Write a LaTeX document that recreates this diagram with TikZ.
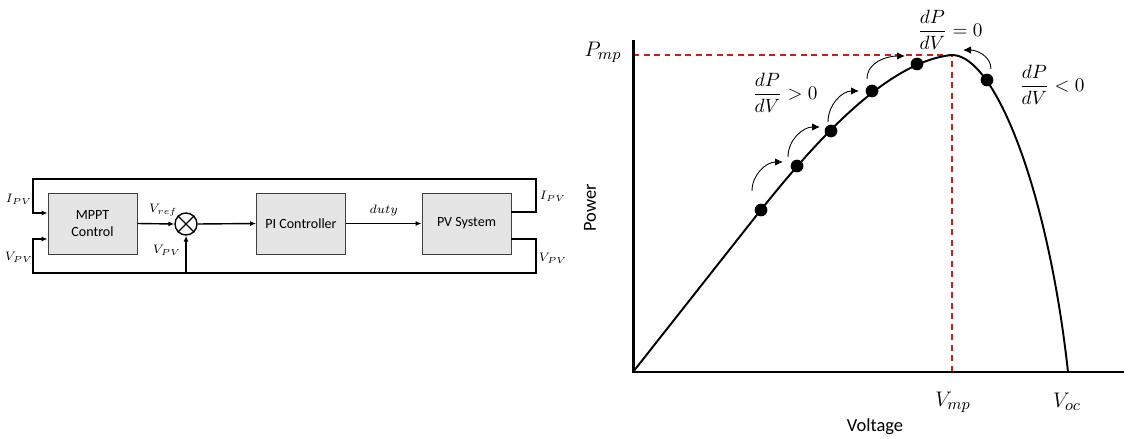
\documentclass[tikz,border=0pt]{standalone}
\usepackage{fontspec}
\setmainfont{Carlito}
\usepackage{amsmath}
\usetikzlibrary{arrows.meta, calc}
\definecolor{mpred}{RGB}{200,30,30}
\tikzset{
  block/.style  = {draw=black!75, fill=gray!20, align=center, line width=0.5pt,
                   minimum width=1.78cm, minimum height=1.22cm,
                   font=\fontsize{8}{9.5}\selectfont, inner sep=2pt},
  sumnode/.style = {draw, circle, minimum size=0.44cm, inner sep=0pt, line width=0.8pt},
  sig/.style    = {-{Latex[length=1.2mm,width=1mm]}, line width=0.8pt},
  lbl/.style    = {font=\fontsize{7}{8}\selectfont, inner sep=1pt},
  axis/.style   = {line width=1.7pt},
  pvcurve/.style = {line width=1.1pt},
  guide/.style  = {mpred, dash pattern=on 0.12cm off 0.09cm, line width=0.8pt},
  hop/.style    = {-{Latex[length=1.6mm,width=1.5mm]}, line width=0.5pt},
  big/.style    = {font=\fontsize{12.5}{14}\selectfont, inner sep=1pt},
  slope/.style  = {font=\fontsize{11}{13}\selectfont, inner sep=1pt},
  axlabel/.style = {font=\fontsize{10.5}{12}\selectfont, inner sep=1pt}
}
\begin{document}
\begin{tikzpicture}[x=0.02cm, y=-0.02cm]
\useasboundingbox (0,0) rectangle (1129,439);
% Control loop
\node[block] (mppt) at (92.5,223.5) {MPPT\\Control};
\node[sumnode] (sum) at (186,224) {};
\node[block] (pi) at (301,223.5) {PI Controller};
\node[block] (pv) at (466.5,223.5) {PV System};
\draw[line width=0.8pt] (sum.north west) -- (sum.south east) (sum.north east) -- (sum.south west);
\coordinate (nw) at (33,179);
\coordinate (ne) at (536,179);
\coordinate (sw) at (33,273);
\coordinate (se) at (536,273);
\draw[sig] (mppt.east) -- node[lbl, above=3pt, pos=0.7] (vref) {$V_{ref}$} (sum.west);
\draw[sig] (sum.east) -- (pi.west);
\draw[sig] (pi.east) -- node[lbl, above=3pt] (duty) {$duty$} (pv.west);
\draw[sig] ($(pv.east)+(0,-11.5)$) -| (ne) -- (nw) |- ($(mppt.west)+(0,-10.5)$);
\draw[sig] ($(pv.east)+(0,15.5)$) -| (se) -- (sw) |- ($(mppt.west)+(0,15.5)$);
\draw[sig] (sum |- sw) -- (sum.south);
\node[lbl] (ipvl) at (19,199) {$I_{PV}$};
\node[lbl] (vpvl) at (19,257) {$V_{PV}$};
\node[lbl] (ipvr) at (553,196) {$I_{PV}$};
\node[lbl] (vpvr) at (553,258) {$V_{PV}$};
\node[lbl] (vpvs) at (167,250) {$V_{PV}$};
% P-V curve
\coordinate (peak) at (952,55);
\draw[guide] (633,55) -- (peak) -- (952,372);
\draw[axis] (633,40) -- (633,372) -- (1124,372);
\draw[pvcurve] (633,372) -- (745,230) .. controls (800,160) and (880,62) .. (peak)
  .. controls (995,55) and (1048,190) .. (1068,372);
\foreach \x/\y [count=\i] in {761/210, 797/166, 831/131, 872/91, 917/64, 987/80}
  \fill (\x,\y) coordinate (op\i) circle[radius=0.127cm];
\foreach \a/\b/\c/\d in {752/191/783/162, 788/157/820/127, 828/122/859/91, 867/79/905/56}
  \draw[hop] (\a,\b) to[out=90, in=180] (\c,\d);
\draw[hop] (991,69) to[out=90, in=0] (963,50);
\node[big] (pmp) at (603,52) {$P_{mp}$};
\node[big] (vmp) at (953,402) {$V_{mp}$};
\node[big] (voc) at (1067,402) {$V_{oc}$};
\node[slope] (pos) at (785,93) {$\dfrac{dP}{dV}>0$};
\node[slope] (zero) at (950,30) {$\dfrac{dP}{dV}=0$};
\node[slope] (neg) at (1052,85) {$\dfrac{dP}{dV}<0$};
\node[axlabel] (xlab) at (875,427) {Voltage};
\node[axlabel, rotate=90] (ylab) at (590,208) {Power};
\end{tikzpicture}
\end{document}
